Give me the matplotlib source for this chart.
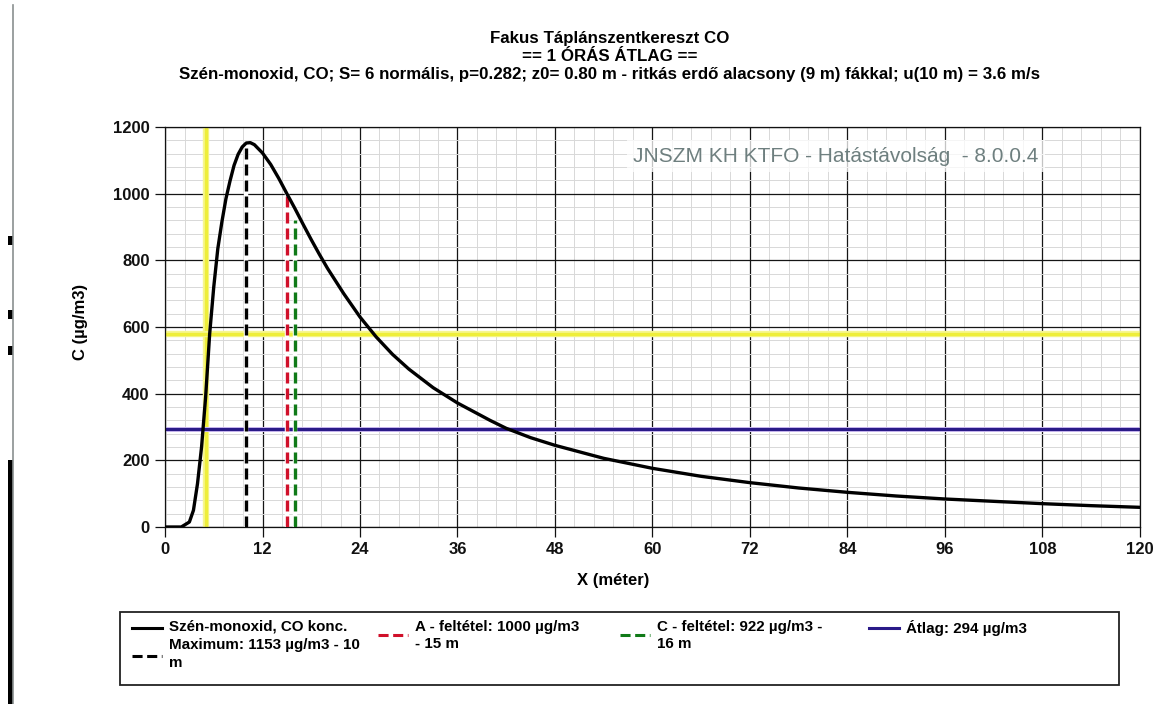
import matplotlib
matplotlib.use("Agg")
import matplotlib.pyplot as plt
from matplotlib.lines import Line2D
from matplotlib.patches import Rectangle
from matplotlib.ticker import FixedLocator, MultipleLocator

# ---------------- data ----------------
title_lines = [
    "Fakus Táplánszentkereszt CO",
    "== 1 ÓRÁS ÁTLAG ==",
    "Szén-monoxid, CO; S= 6 normális, p=0.282; z0= 0.80 m - ritkás erdő alacsony (9 m) fákkal; u(10 m) = 3.6 m/s",
]
x_label = "X (méter)"
y_label = "C (µg/m3)"
watermark = "JNSZM KH KTFO - Hatástávolság  - 8.0.0.4"

x_m = [0, 1, 2, 3, 3.5, 4, 4.5, 5, 5.5, 6, 6.5, 7, 7.5, 8, 8.5, 9, 9.5, 10, 10.5, 11,
       12, 13, 14, 15, 16, 17, 18, 19, 20, 22, 24, 26, 28, 30, 33, 36, 40, 42, 45, 48,
       54, 60, 66, 72, 78, 84, 90, 96, 102, 108, 114, 120]
conc = [0, 0, 0, 15, 50, 130, 240, 390, 580, 720, 835, 915, 985, 1038, 1085, 1118, 1140,
        1152, 1153, 1147, 1122, 1088, 1046, 1000, 955, 908, 862, 818, 776, 700, 630, 570,
        518, 474, 418, 372, 320, 296, 268, 245, 206, 176, 152, 133, 117, 104, 93, 84, 77,
        70, 64, 59]

x_ticks = [0, 12, 24, 36, 48, 60, 72, 84, 96, 108, 120]
y_ticks = [0, 200, 400, 600, 800, 1000, 1200]

max_x, max_c = 10, 1153
a_x, a_c = 15, 1000
c_x, c_c = 16, 922
avg_c = 294
limit_x, limit_c = 5, 580

legend_labels = [
    "Szén-monoxid, CO konc.",
    "Maximum: 1153 µg/m3 - 10\nm",
    "A - feltétel: 1000 µg/m3\n- 15 m",
    "C - feltétel: 922 µg/m3 -\n16 m",
    "Átlag: 294 µg/m3",
]

# ---------------- style ----------------
plt.rcParams["font.family"] = ["Liberation Sans", "DejaVu Sans"]
W, H = 1155, 704
fig = plt.figure(figsize=(W / 100, H / 100), dpi=100)
fig.patch.set_facecolor("white")


def fx(px):
    return px / W


def fy(py):
    return 1 - py / H


ax = fig.add_axes([fx(165), fy(527), fx(1140) - fx(165), fy(127) - fy(527)])
ax.set_xlim(0, 120)
ax.set_ylim(0, 1200)
ax.xaxis.set_major_locator(FixedLocator(x_ticks))
ax.yaxis.set_major_locator(FixedLocator(y_ticks))
ax.xaxis.set_minor_locator(MultipleLocator(2.4))
ax.yaxis.set_minor_locator(MultipleLocator(40))
ax.set_axisbelow(True)
ax.grid(which="minor", color="#d8d8d8", lw=0.7)
ax.grid(which="major", color="#151515", lw=0.9)
ax.tick_params(which="minor", length=0)
ax.tick_params(which="major", direction="out", length=7, width=0.9,
               labelsize=12, pad=4, colors="#111111")
for lbl in ax.get_xticklabels() + ax.get_yticklabels():
    lbl.set_fontweight("bold")
for sp in ax.spines.values():
    sp.set_color("#111111")
    sp.set_linewidth(0.9)

# reference lines
ax.axvline(limit_x, color="#f6f690", lw=4.6, zorder=2)
ax.axvline(limit_x, color="#eeee3a", lw=2.4, zorder=2)
ax.axhline(limit_c, color="#f6f690", lw=4.6, zorder=2)
ax.axhline(limit_c, color="#eeee3a", lw=2.4, zorder=2)
ax.axhline(avg_c, color="#c9b8ee", lw=3.6, zorder=2)
ax.plot([0, 120], [avg_c, avg_c], color="#2a1a88", lw=2.2, zorder=2)

dash = (3.3, 1.5)
for xv, cv, col in [(max_x, max_c, "black"), (a_x, a_c, "#d0102a"), (c_x, c_c, "#107a18")]:
    ax.plot([xv, xv], [0, cv], color="white", lw=3.2, zorder=3)
    ax.plot([xv, xv], [0, cv], color=col, lw=2.4, dashes=dash, zorder=3)

ax.plot(x_m, conc, color="black", lw=2.4, zorder=5, solid_joinstyle="round")

# titles and labels
for i, t in enumerate(title_lines):
    fig.text(fx(610), fy(39 + i * 17.5), t, ha="center", va="center",
             fontsize=12.2, fontweight="bold")
fig.text(fx(613), fy(580), x_label, ha="center", va="center", fontsize=12, fontweight="bold")
fig.text(fx(80), fy(322), y_label, ha="center", va="center", rotation=90,
         fontsize=12, fontweight="bold")

fig.text(fx(836), fy(156), watermark, ha="center", va="center", fontsize=15,
         color="#6e7f7f", bbox=dict(facecolor="white", edgecolor="none", alpha=0.75,
                                     boxstyle="square,pad=0.3"))

# legend (manual layout to match the reference box)
fig.add_artist(Rectangle((fx(120), fy(685)), fx(1119) - fx(120), (685 - 612) / H,
                         transform=fig.transFigure, facecolor="white",
                         edgecolor="#222222", lw=1.3))
entries = [
    (132, 628, "black", None, 628),
    (132, 656, "black", (3.3, 1.5), 647),
    (378, 635, "#d0102a", (3.3, 1.5), 628),
    (620, 635, "#107a18", (3.3, 1.5), 628),
    (869, 628, "#2a1a88", None, 628),
]
for (hx, hy, col, ds, ty), lab in zip(entries, legend_labels):
    kw = dict(dashes=ds) if ds else {}
    fig.add_artist(Line2D([fx(hx), fx(hx + 30)], [fy(hy), fy(hy)], transform=fig.transFigure,
                          color=col, lw=2.2, **kw))
    fig.text(fx(hx + 37), fy(ty - 8.5), lab, ha="left", va="top", fontsize=10.9,
             fontweight="bold", linespacing=1.3)

# left-edge scan artefacts
fig.add_artist(Line2D([fx(13), fx(13)], [fy(5), fy(704)], transform=fig.transFigure,
                      color="#8a9090", lw=1.2))
fig.add_artist(Rectangle((fx(8), fy(704)), fx(5), (704 - 460) / H, transform=fig.transFigure,
                         facecolor="black", edgecolor="none"))
for yy in (240, 314, 350):
    fig.add_artist(Rectangle((fx(8), fy(yy + 5)), fx(5), 9 / H, transform=fig.transFigure,
                             facecolor="black", edgecolor="none"))

fig.savefig("out.png", dpi=100, facecolor="white")
